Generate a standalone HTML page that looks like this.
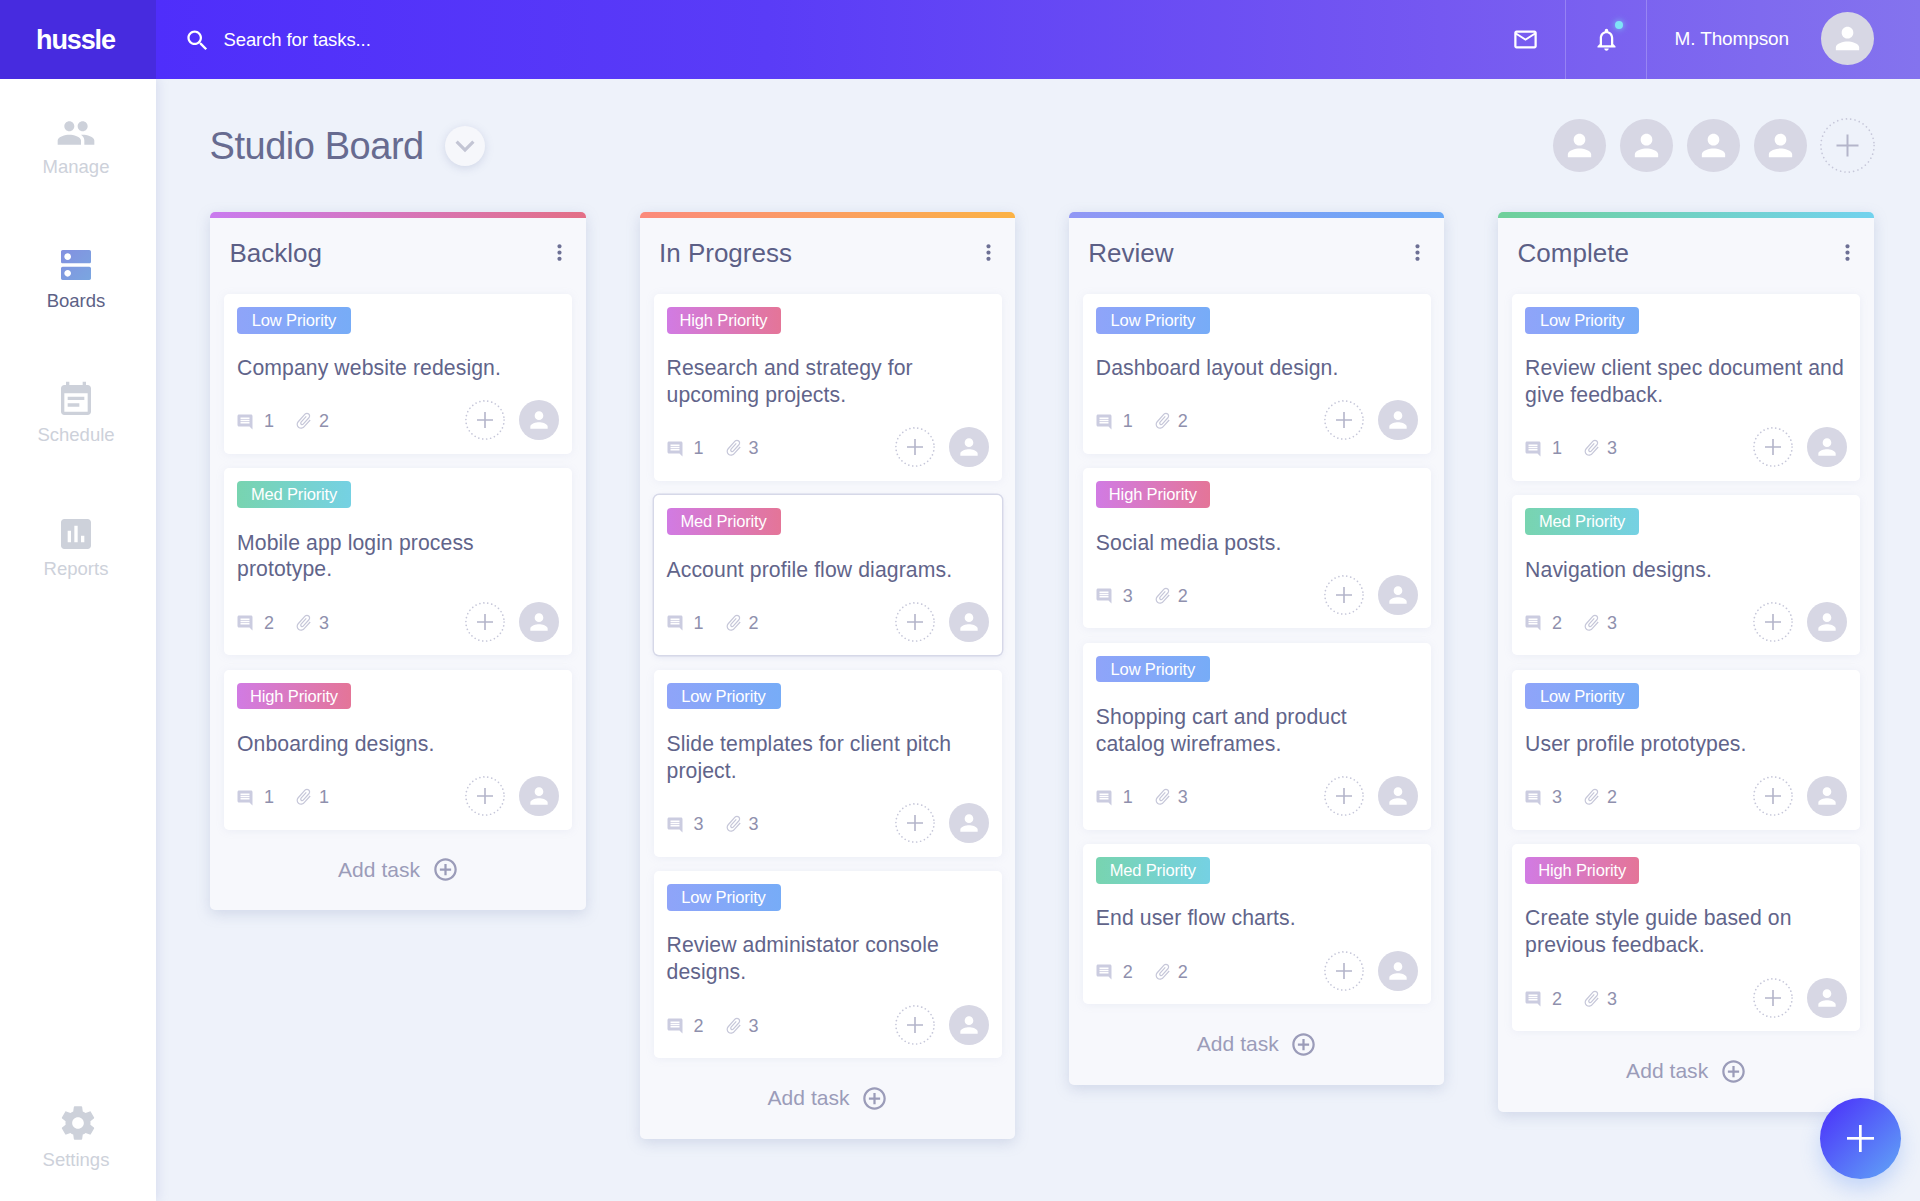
<!DOCTYPE html>
<html lang="en"><head><meta charset="utf-8"><title>hussle - Studio Board</title>
<style>
*{box-sizing:border-box;margin:0;padding:0}
html,body{width:1920px;height:1201px;overflow:hidden}
body{font-family:"Liberation Sans",sans-serif;background:#eef2fa;color:#5c5f86;position:relative}
.ic{display:block;fill:currentColor}
i{font-style:normal;display:block}
b{font-weight:normal}
/* header */
.top{position:absolute;left:0;top:0;width:1920px;height:78.7px;background:linear-gradient(90deg,#4f2efb 156px,#5a3cf7 40%,#7558f1 75%,#8473ee 100%);color:#fff;z-index:5}
.logo{position:absolute;left:0;top:0;width:155.5px;height:100%;background:#472bdf}
.logo span{position:absolute;left:36px;top:23.7px;font-size:27px;line-height:32px;font-weight:bold;letter-spacing:-1.1px}
.srch{position:absolute;left:184px;top:27px}
.stext{position:absolute;left:223.5px;top:28.4px;font-size:18.5px;line-height:24px;letter-spacing:-.1px}
.mail{position:absolute;left:1511.7px;top:26px}
.bell{position:absolute;left:1592.5px;top:26px}
.dot{position:absolute;left:1615px;top:21px;width:8px;height:8px;border-radius:50%;background:#7fe3f7;box-shadow:0 0 6px rgba(127,227,247,.8)}
.dv{position:absolute;top:0;width:1px;height:100%;background:rgba(255,255,255,.22)}
.uname{position:absolute;left:1674.5px;top:27.1px;font-size:19px;line-height:24px;letter-spacing:-.12px}
/* avatars */
.av{position:absolute;border-radius:50%;background:#d7d7e4;color:#fff;display:flex;align-items:center;justify-content:center}
.av.lg{width:53px;height:53px}
.av.sm{width:40px;height:40px;right:13px;top:0}
.plus{position:absolute;display:block;right:67px;top:0}
.plus.lg{right:auto}
/* sidebar */
.side{position:absolute;left:0;top:78px;width:156px;height:1123px;background:#fff;box-shadow:2px 0 10px rgba(150,160,210,.25);z-index:4}
.si{color:#cdd1da}
.si svg{position:absolute;margin-top:-78px}
.si span{position:absolute;left:0;width:152px;text-align:center;font-size:18.5px;line-height:24px;margin-top:-78px}
.si.act span{color:#5c6186}
.si.act svg{fill:url(#bg)}
/* main */
h1{position:absolute;left:209.5px;top:122px;font-size:38px;line-height:48px;font-weight:normal;color:#676b90;letter-spacing:-.45px}
.dd{position:absolute;left:445px;top:126px;width:40px;height:40px;border-radius:50%;background:#f6f7fb;box-shadow:0 2px 8px rgba(120,130,180,.25);color:#c3c5d4;display:flex;align-items:center;justify-content:center}
.col{position:absolute;top:212.3px;width:375.7px;background:#f7f8fc;border-radius:5px;box-shadow:0 4px 14px rgba(130,145,190,.27)}
.bar{position:absolute;left:0;top:0;width:100%;height:5.6px;border-radius:5px 5px 0 0}
h2{position:absolute;left:19.5px;top:24.7px;font-size:26px;line-height:32px;font-weight:normal;color:#5c5f86}
.dots{position:absolute;right:14.2px;top:28px;color:#6d7095}
.card{position:absolute;left:14px;width:348px;background:#fff;border-radius:5px;box-shadow:0 1px 8px rgba(160,170,210,.13)}
.card.sel{box-shadow:0 0 0 1.4px #d6d8e8,0 2px 6px rgba(140,150,200,.2)}
.badge{position:absolute;left:13px;top:13px;width:114px;height:27px;border-radius:4px;color:#fff;font-size:16.5px;line-height:26.6px;text-align:center;letter-spacing:-.15px;height:26.6px}
.badge.low{background:linear-gradient(90deg,#8fa4f9,#77acf7)}
.badge.med{background:linear-gradient(90deg,#78d4b0,#75d1e3)}
.badge.high{background:linear-gradient(90deg,#d17be3,#e47598)}
.ct{position:absolute;left:13px;top:61.3px;font-size:21.2px;line-height:26.8px;color:#61648a;white-space:nowrap;letter-spacing:.1px}
.cf{position:absolute;left:0;bottom:13.6px;width:100%;height:40px}
.cf b{font-size:18px;line-height:24px;color:#8f90ad;position:absolute;top:9px}
.m1 b{left:40px}
.m2 b{left:95px}
.cm{position:absolute;left:12.4px;top:12.6px;color:#cbcce0}
.cl{position:absolute;left:70.4px;top:11px;color:#c6c7d9;transform:rotate(42deg)}
.add{position:absolute;left:0;width:100%;height:81px;color:#9b9cb9}
.add span{position:absolute;left:128px;top:26px;font-size:21px;line-height:27px;letter-spacing:.05px}
.add svg{position:absolute;left:221.7px;top:26.6px}
.fab{position:absolute;left:1820px;top:1098px;width:81px;height:81px;border-radius:50%;background:linear-gradient(135deg,#4c38fa 10%,#5f9bf7 90%);box-shadow:0 10px 20px rgba(100,150,245,.3);z-index:6}
.fab i{position:absolute;left:50%;top:50%;width:27px;height:27px;margin:-13.5px 0 0 -13.5px;background:linear-gradient(#fff,#fff) center/27px 2.7px no-repeat,linear-gradient(#fff,#fff) center/2.7px 27px no-repeat}

</style></head>
<body>
<svg width="0" height="0" style="position:absolute"><defs><linearGradient id="bg" x1="0" y1="0" x2="1" y2="1"><stop offset="0" stop-color="#8390e0"/><stop offset="1" stop-color="#7aa6e0"/></linearGradient></defs></svg>
<header class="top">
<div class="logo"><span>hussle</span></div>
<svg class="ic srch" width="27" height="27" viewBox="0 0 24 24" style=""><path d="M15.5 14h-.79l-.28-.27C15.41 12.59 16 11.11 16 9.5 16 5.91 13.09 3 9.5 3S3 5.91 3 9.5 5.91 16 9.5 16c1.61 0 3.09-.59 4.23-1.57l.27.28v.79l5 4.99L20.49 19l-4.99-5zm-6 0C7.01 14 5 11.99 5 9.5S7.01 5 9.5 5 14 7.01 14 9.5 11.99 14 9.5 14z"/></svg>
<span class="stext">Search for tasks...</span>
<svg class="ic mail" width="27" height="27" viewBox="0 0 24 24" style=""><path d="M20 4H4c-1.1 0-1.99.9-1.99 2L2 18c0 1.1.9 2 2 2h16c1.1 0 2-.9 2-2V6c0-1.1-.9-2-2-2zm0 14H4V8l8 5 8-5v10zm-8-7L4 6h16l-8 5z"/></svg>
<i class="dv" style="left:1565px"></i>
<svg class="ic bell" width="27" height="27" viewBox="0 0 24 24" style=""><path d="M12 22c1.1 0 2-.9 2-2h-4c0 1.1.9 2 2 2zm6-6v-5c0-3.07-1.63-5.64-4.5-6.32V4c0-.83-.67-1.5-1.5-1.5s-1.5.67-1.5 1.5v.68C7.64 5.36 6 7.92 6 11v5l-2 2v1h16v-1l-2-2zm-2 1H8v-6c0-2.48 1.51-4.5 4-4.5s4 2.02 4 4.5v6z"/></svg><i class="dot"></i>
<i class="dv" style="left:1646px"></i>
<span class="uname">M. Thompson</span>
<span class="av lg" style="left:1821px;top:12px"><svg class="ic " width="35" height="35" viewBox="0 0 24 24" style=""><path d="M12 12c2.21 0 4-1.79 4-4s-1.79-4-4-4-4 1.79-4 4 1.79 4 4 4zm0 2c-2.67 0-8 1.34-8 4v2h16v-2c0-2.66-5.33-4-8-4z"/></svg></span>
</header>
<aside class="side">
<div class="si"><svg class="ic " width="40" height="40" viewBox="0 0 24 24" style="left:56px;top:113.30000000000001px"><path d="M16 11c1.66 0 2.99-1.34 2.99-3S17.66 5 16 5c-1.66 0-3 1.34-3 3s1.34 3 3 3zm-8 0c1.66 0 2.99-1.34 2.99-3S9.66 5 8 5C6.34 5 5 6.34 5 8s1.34 3 3 3zm0 2c-2.33 0-7 1.17-7 3.5V19h14v-2.5c0-2.33-4.67-3.5-7-3.5zm8 0c-.29 0-.62.02-.97.05 1.16.84 1.97 1.97 1.97 3.45V19h6v-2.5c0-2.33-4.67-3.5-7-3.5z"/></svg><span style="top:154.5px">Manage</span></div><div class="si act"><svg class="ic " width="40" height="40" viewBox="0 0 24 24" style="left:56px;top:245.39999999999998px"><path d="M20 13H4c-.55 0-1 .45-1 1v6c0 .55.45 1 1 1h16c.55 0 1-.45 1-1v-6c0-.55-.45-1-1-1zM7 19c-1.1 0-2-.9-2-2s.9-2 2-2 2 .9 2 2-.9 2-2 2zM20 3H4c-.55 0-1 .45-1 1v6c0 .55.45 1 1 1h16c.55 0 1-.45 1-1V4c0-.55-.45-1-1-1zM7 9c-1.1 0-2-.9-2-2s.9-2 2-2 2 .9 2 2-.9 2-2 2z"/></svg><span style="top:288.6px">Boards</span></div><div class="si"><svg class="ic " width="40" height="40" viewBox="0 0 24 24" style="left:56px;top:380.2px"><path d="M17 10H7v2h10v-2zm2-7h-1V1h-2v2H8V1H6v2H5c-1.11 0-1.99.9-1.99 2L3 19c0 1.1.89 2 2 2h14c1.1 0 2-.9 2-2V5c0-1.1-.9-2-2-2zm0 16H5V8h14v11zm-5-5H7v2h7v-2z"/></svg><span style="top:423px">Schedule</span></div><div class="si"><svg class="ic " width="40" height="40" viewBox="0 0 24 24" style="left:56px;top:514px"><path d="M19 3H5c-1.1 0-2 .9-2 2v14c0 1.1.9 2 2 2h14c1.1 0 2-.9 2-2V5c0-1.1-.9-2-2-2zM9 17H7v-7h2v7zm4 0h-2V7h2v10zm4 0h-2v-4h2v4z"/></svg><span style="top:557px">Reports</span></div><div class="si"><svg class="ic " width="40" height="40" viewBox="0 0 24 24" style="left:58px;top:1103px"><path d="M19.43 12.98c.04-.32.07-.64.07-.98s-.03-.66-.07-.98l2.11-1.65c.19-.15.24-.42.12-.64l-2-3.46c-.12-.22-.39-.3-.61-.22l-2.49 1c-.52-.4-1.08-.73-1.69-.98l-.38-2.65C14.46 2.18 14.25 2 14 2h-4c-.25 0-.46.18-.49.42l-.38 2.65c-.61.25-1.17.59-1.69.98l-2.49-1c-.23-.09-.49 0-.61.22l-2 3.46c-.13.22-.07.49.12.64l2.11 1.65c-.04.32-.07.65-.07.98s.03.66.07.98l-2.11 1.65c-.19.15-.24.42-.12.64l2 3.46c.12.22.39.3.61.22l2.49-1c.52.4 1.08.73 1.69.98l.38 2.65c.03.24.24.42.49.42h4c.25 0 .46-.18.49-.42l.38-2.65c.61-.25 1.17-.59 1.69-.98l2.49 1c.23.09.49 0 .61-.22l2-3.46c.12-.22.07-.49-.12-.64l-2.11-1.65zM12 15.5c-1.93 0-3.5-1.57-3.5-3.5s1.57-3.5 3.5-3.5 3.5 1.57 3.5 3.5-1.57 3.5-3.5 3.5z"/></svg><span style="top:1147.6px">Settings</span></div>
</aside>
<main>
<h1>Studio Board</h1>
<span class="dd"><svg class="ic " width="38" height="38" viewBox="0 0 24 24" style=""><path d="M16.59 8.59L12 13.17 7.41 8.59 6 10l6 6 6-6z"/></svg></span>
<span class="av lg" style="left:1552.5px;top:119px"><svg class="ic " width="35" height="35" viewBox="0 0 24 24" style=""><path d="M12 12c2.21 0 4-1.79 4-4s-1.79-4-4-4-4 1.79-4 4 1.79 4 4 4zm0 2c-2.67 0-8 1.34-8 4v2h16v-2c0-2.66-5.33-4-8-4z"/></svg></span>
<span class="av lg" style="left:1619.5px;top:119px"><svg class="ic " width="35" height="35" viewBox="0 0 24 24" style=""><path d="M12 12c2.21 0 4-1.79 4-4s-1.79-4-4-4-4 1.79-4 4 1.79 4 4 4zm0 2c-2.67 0-8 1.34-8 4v2h16v-2c0-2.66-5.33-4-8-4z"/></svg></span>
<span class="av lg" style="left:1686.5px;top:119px"><svg class="ic " width="35" height="35" viewBox="0 0 24 24" style=""><path d="M12 12c2.21 0 4-1.79 4-4s-1.79-4-4-4-4 1.79-4 4 1.79 4 4 4zm0 2c-2.67 0-8 1.34-8 4v2h16v-2c0-2.66-5.33-4-8-4z"/></svg></span>
<span class="av lg" style="left:1753.5px;top:119px"><svg class="ic " width="35" height="35" viewBox="0 0 24 24" style=""><path d="M12 12c2.21 0 4-1.79 4-4s-1.79-4-4-4-4 1.79-4 4 1.79 4 4 4zm0 2c-2.67 0-8 1.34-8 4v2h16v-2c0-2.66-5.33-4-8-4z"/></svg></span>
<svg class="plus lg" width="55" height="55" viewBox="0 0 55 55" style="left:1819.5px;top:118px"><circle cx="27.5" cy="27.5" r="26.60" fill="none" stroke="#c6c7d9" stroke-width="1.7" stroke-linecap="round" stroke-dasharray="0.01 4.398"/><path d="M16.5 27.5H38.5M27.5 16.5V38.5" stroke="#b4b5ca" stroke-width="2" fill="none"/></svg>
<section class="col" style="left:210px;height:698.1px">
<div class="bar" style="background:linear-gradient(90deg,#c97bef,#e36f86)"></div>
<h2>Backlog</h2><svg class="ic dots" width="25" height="25" viewBox="0 0 24 24" style=""><path d="M12 8c1.1 0 2-.9 2-2s-.9-2-2-2-2 .9-2 2 .9 2 2 2zm0 2c-1.1 0-2 .9-2 2s.9 2 2 2 2-.9 2-2-.9-2-2-2zm0 6c-1.1 0-2 .9-2 2s.9 2 2 2 2-.9 2-2-.9-2-2-2z"/></svg>
<div class="card" style="top:81.7px;height:160px">
<span class="badge low">Low Priority</span>
<p class="ct">Company website redesign.</p>
<div class="cf"><span class="m1"><svg class="ic cm" width="18" height="18" viewBox="0 0 24 24" style=""><path d="M21.99 4c0-1.1-.89-2-1.99-2H4c-1.1 0-2 .9-2 2v12c0 1.1.9 2 2 2h14l4 4-.01-18zM18 14H6v-2h12v2zm0-3H6V9h12v2zm0-3H6V6h12v2z"/></svg><b>1</b></span><span class="m2"><svg class="ic cl" width="19.5" height="19.5" viewBox="0 0 24 24" style=""><path d="M16.5 6v11.5c0 2.21-1.79 4-4 4s-4-1.79-4-4V5c0-1.38 1.12-2.5 2.5-2.5s2.5 1.12 2.5 2.5v10.5c0 .55-.45 1-1 1s-1-.45-1-1V6H10v9.5c0 1.38 1.12 2.5 2.5 2.5s2.5-1.12 2.5-2.5V5c0-2.21-1.79-4-4-4S7 2.79 7 5v12.5c0 3.04 2.46 5.5 5.5 5.5s5.5-2.46 5.5-5.5V6h-1.5z"/></svg><b>2</b></span>
<svg class="plus " width="40" height="40" viewBox="0 0 40 40" style=""><circle cx="20.0" cy="20.0" r="19.10" fill="none" stroke="#c6c7d9" stroke-width="1.7" stroke-linecap="round" stroke-dasharray="0.01 4.000"/><path d="M12.0 20.0H28.0M20.0 12.0V28.0" stroke="#b4b5ca" stroke-width="1.6" fill="none"/></svg><span class="av sm"><svg class="ic " width="26" height="26" viewBox="0 0 24 24" style=""><path d="M12 12c2.21 0 4-1.79 4-4s-1.79-4-4-4-4 1.79-4 4 1.79 4 4 4zm0 2c-2.67 0-8 1.34-8 4v2h16v-2c0-2.66-5.33-4-8-4z"/></svg></span></div>
</div><div class="card" style="top:256.1px;height:187px">
<span class="badge med">Med Priority</span>
<p class="ct">Mobile app login process<br>prototype.</p>
<div class="cf"><span class="m1"><svg class="ic cm" width="18" height="18" viewBox="0 0 24 24" style=""><path d="M21.99 4c0-1.1-.89-2-1.99-2H4c-1.1 0-2 .9-2 2v12c0 1.1.9 2 2 2h14l4 4-.01-18zM18 14H6v-2h12v2zm0-3H6V9h12v2zm0-3H6V6h12v2z"/></svg><b>2</b></span><span class="m2"><svg class="ic cl" width="19.5" height="19.5" viewBox="0 0 24 24" style=""><path d="M16.5 6v11.5c0 2.21-1.79 4-4 4s-4-1.79-4-4V5c0-1.38 1.12-2.5 2.5-2.5s2.5 1.12 2.5 2.5v10.5c0 .55-.45 1-1 1s-1-.45-1-1V6H10v9.5c0 1.38 1.12 2.5 2.5 2.5s2.5-1.12 2.5-2.5V5c0-2.21-1.79-4-4-4S7 2.79 7 5v12.5c0 3.04 2.46 5.5 5.5 5.5s5.5-2.46 5.5-5.5V6h-1.5z"/></svg><b>3</b></span>
<svg class="plus " width="40" height="40" viewBox="0 0 40 40" style=""><circle cx="20.0" cy="20.0" r="19.10" fill="none" stroke="#c6c7d9" stroke-width="1.7" stroke-linecap="round" stroke-dasharray="0.01 4.000"/><path d="M12.0 20.0H28.0M20.0 12.0V28.0" stroke="#b4b5ca" stroke-width="1.6" fill="none"/></svg><span class="av sm"><svg class="ic " width="26" height="26" viewBox="0 0 24 24" style=""><path d="M12 12c2.21 0 4-1.79 4-4s-1.79-4-4-4-4 1.79-4 4 1.79 4 4 4zm0 2c-2.67 0-8 1.34-8 4v2h16v-2c0-2.66-5.33-4-8-4z"/></svg></span></div>
</div><div class="card" style="top:457.5px;height:160px">
<span class="badge high">High Priority</span>
<p class="ct">Onboarding designs.</p>
<div class="cf"><span class="m1"><svg class="ic cm" width="18" height="18" viewBox="0 0 24 24" style=""><path d="M21.99 4c0-1.1-.89-2-1.99-2H4c-1.1 0-2 .9-2 2v12c0 1.1.9 2 2 2h14l4 4-.01-18zM18 14H6v-2h12v2zm0-3H6V9h12v2zm0-3H6V6h12v2z"/></svg><b>1</b></span><span class="m2"><svg class="ic cl" width="19.5" height="19.5" viewBox="0 0 24 24" style=""><path d="M16.5 6v11.5c0 2.21-1.79 4-4 4s-4-1.79-4-4V5c0-1.38 1.12-2.5 2.5-2.5s2.5 1.12 2.5 2.5v10.5c0 .55-.45 1-1 1s-1-.45-1-1V6H10v9.5c0 1.38 1.12 2.5 2.5 2.5s2.5-1.12 2.5-2.5V5c0-2.21-1.79-4-4-4S7 2.79 7 5v12.5c0 3.04 2.46 5.5 5.5 5.5s5.5-2.46 5.5-5.5V6h-1.5z"/></svg><b>1</b></span>
<svg class="plus " width="40" height="40" viewBox="0 0 40 40" style=""><circle cx="20.0" cy="20.0" r="19.10" fill="none" stroke="#c6c7d9" stroke-width="1.7" stroke-linecap="round" stroke-dasharray="0.01 4.000"/><path d="M12.0 20.0H28.0M20.0 12.0V28.0" stroke="#b4b5ca" stroke-width="1.6" fill="none"/></svg><span class="av sm"><svg class="ic " width="26" height="26" viewBox="0 0 24 24" style=""><path d="M12 12c2.21 0 4-1.79 4-4s-1.79-4-4-4-4 1.79-4 4 1.79 4 4 4zm0 2c-2.67 0-8 1.34-8 4v2h16v-2c0-2.66-5.33-4-8-4z"/></svg></span></div>
</div>
<div class="add" style="top:617.5px"><span>Add task</span><svg class="ic " width="27" height="27" viewBox="0 0 24 24" style=""><path d="M13 7h-2v4H7v2h4v4h2v-4h4v-2h-4V7zm-1-5C6.48 2 2 6.48 2 12s4.48 10 10 10 10-4.48 10-10S17.52 2 12 2zm0 18c-4.41 0-8-3.59-8-8s3.59-8 8-8 8 3.59 8 8-3.59 8-8 8z"/></svg></div>
</section><section class="col" style="left:639.5px;height:926.5px">
<div class="bar" style="background:linear-gradient(90deg,#fb8a7c,#fbb245)"></div>
<h2>In Progress</h2><svg class="ic dots" width="25" height="25" viewBox="0 0 24 24" style=""><path d="M12 8c1.1 0 2-.9 2-2s-.9-2-2-2-2 .9-2 2 .9 2 2 2zm0 2c-1.1 0-2 .9-2 2s.9 2 2 2 2-.9 2-2-.9-2-2-2zm0 6c-1.1 0-2 .9-2 2s.9 2 2 2 2-.9 2-2-.9-2-2-2z"/></svg>
<div class="card" style="top:81.7px;height:187px">
<span class="badge high">High Priority</span>
<p class="ct">Research and strategy for<br>upcoming projects.</p>
<div class="cf"><span class="m1"><svg class="ic cm" width="18" height="18" viewBox="0 0 24 24" style=""><path d="M21.99 4c0-1.1-.89-2-1.99-2H4c-1.1 0-2 .9-2 2v12c0 1.1.9 2 2 2h14l4 4-.01-18zM18 14H6v-2h12v2zm0-3H6V9h12v2zm0-3H6V6h12v2z"/></svg><b>1</b></span><span class="m2"><svg class="ic cl" width="19.5" height="19.5" viewBox="0 0 24 24" style=""><path d="M16.5 6v11.5c0 2.21-1.79 4-4 4s-4-1.79-4-4V5c0-1.38 1.12-2.5 2.5-2.5s2.5 1.12 2.5 2.5v10.5c0 .55-.45 1-1 1s-1-.45-1-1V6H10v9.5c0 1.38 1.12 2.5 2.5 2.5s2.5-1.12 2.5-2.5V5c0-2.21-1.79-4-4-4S7 2.79 7 5v12.5c0 3.04 2.46 5.5 5.5 5.5s5.5-2.46 5.5-5.5V6h-1.5z"/></svg><b>3</b></span>
<svg class="plus " width="40" height="40" viewBox="0 0 40 40" style=""><circle cx="20.0" cy="20.0" r="19.10" fill="none" stroke="#c6c7d9" stroke-width="1.7" stroke-linecap="round" stroke-dasharray="0.01 4.000"/><path d="M12.0 20.0H28.0M20.0 12.0V28.0" stroke="#b4b5ca" stroke-width="1.6" fill="none"/></svg><span class="av sm"><svg class="ic " width="26" height="26" viewBox="0 0 24 24" style=""><path d="M12 12c2.21 0 4-1.79 4-4s-1.79-4-4-4-4 1.79-4 4 1.79 4 4 4zm0 2c-2.67 0-8 1.34-8 4v2h16v-2c0-2.66-5.33-4-8-4z"/></svg></span></div>
</div><div class="card sel" style="top:283.1px;height:160px">
<span class="badge high">Med Priority</span>
<p class="ct">Account profile flow diagrams.</p>
<div class="cf"><span class="m1"><svg class="ic cm" width="18" height="18" viewBox="0 0 24 24" style=""><path d="M21.99 4c0-1.1-.89-2-1.99-2H4c-1.1 0-2 .9-2 2v12c0 1.1.9 2 2 2h14l4 4-.01-18zM18 14H6v-2h12v2zm0-3H6V9h12v2zm0-3H6V6h12v2z"/></svg><b>1</b></span><span class="m2"><svg class="ic cl" width="19.5" height="19.5" viewBox="0 0 24 24" style=""><path d="M16.5 6v11.5c0 2.21-1.79 4-4 4s-4-1.79-4-4V5c0-1.38 1.12-2.5 2.5-2.5s2.5 1.12 2.5 2.5v10.5c0 .55-.45 1-1 1s-1-.45-1-1V6H10v9.5c0 1.38 1.12 2.5 2.5 2.5s2.5-1.12 2.5-2.5V5c0-2.21-1.79-4-4-4S7 2.79 7 5v12.5c0 3.04 2.46 5.5 5.5 5.5s5.5-2.46 5.5-5.5V6h-1.5z"/></svg><b>2</b></span>
<svg class="plus " width="40" height="40" viewBox="0 0 40 40" style=""><circle cx="20.0" cy="20.0" r="19.10" fill="none" stroke="#c6c7d9" stroke-width="1.7" stroke-linecap="round" stroke-dasharray="0.01 4.000"/><path d="M12.0 20.0H28.0M20.0 12.0V28.0" stroke="#b4b5ca" stroke-width="1.6" fill="none"/></svg><span class="av sm"><svg class="ic " width="26" height="26" viewBox="0 0 24 24" style=""><path d="M12 12c2.21 0 4-1.79 4-4s-1.79-4-4-4-4 1.79-4 4 1.79 4 4 4zm0 2c-2.67 0-8 1.34-8 4v2h16v-2c0-2.66-5.33-4-8-4z"/></svg></span></div>
</div><div class="card" style="top:457.5px;height:187px">
<span class="badge low">Low Priority</span>
<p class="ct">Slide templates for client pitch<br>project.</p>
<div class="cf"><span class="m1"><svg class="ic cm" width="18" height="18" viewBox="0 0 24 24" style=""><path d="M21.99 4c0-1.1-.89-2-1.99-2H4c-1.1 0-2 .9-2 2v12c0 1.1.9 2 2 2h14l4 4-.01-18zM18 14H6v-2h12v2zm0-3H6V9h12v2zm0-3H6V6h12v2z"/></svg><b>3</b></span><span class="m2"><svg class="ic cl" width="19.5" height="19.5" viewBox="0 0 24 24" style=""><path d="M16.5 6v11.5c0 2.21-1.79 4-4 4s-4-1.79-4-4V5c0-1.38 1.12-2.5 2.5-2.5s2.5 1.12 2.5 2.5v10.5c0 .55-.45 1-1 1s-1-.45-1-1V6H10v9.5c0 1.38 1.12 2.5 2.5 2.5s2.5-1.12 2.5-2.5V5c0-2.21-1.79-4-4-4S7 2.79 7 5v12.5c0 3.04 2.46 5.5 5.5 5.5s5.5-2.46 5.5-5.5V6h-1.5z"/></svg><b>3</b></span>
<svg class="plus " width="40" height="40" viewBox="0 0 40 40" style=""><circle cx="20.0" cy="20.0" r="19.10" fill="none" stroke="#c6c7d9" stroke-width="1.7" stroke-linecap="round" stroke-dasharray="0.01 4.000"/><path d="M12.0 20.0H28.0M20.0 12.0V28.0" stroke="#b4b5ca" stroke-width="1.6" fill="none"/></svg><span class="av sm"><svg class="ic " width="26" height="26" viewBox="0 0 24 24" style=""><path d="M12 12c2.21 0 4-1.79 4-4s-1.79-4-4-4-4 1.79-4 4 1.79 4 4 4zm0 2c-2.67 0-8 1.34-8 4v2h16v-2c0-2.66-5.33-4-8-4z"/></svg></span></div>
</div><div class="card" style="top:658.9px;height:187px">
<span class="badge low">Low Priority</span>
<p class="ct">Review administator console<br>designs.</p>
<div class="cf"><span class="m1"><svg class="ic cm" width="18" height="18" viewBox="0 0 24 24" style=""><path d="M21.99 4c0-1.1-.89-2-1.99-2H4c-1.1 0-2 .9-2 2v12c0 1.1.9 2 2 2h14l4 4-.01-18zM18 14H6v-2h12v2zm0-3H6V9h12v2zm0-3H6V6h12v2z"/></svg><b>2</b></span><span class="m2"><svg class="ic cl" width="19.5" height="19.5" viewBox="0 0 24 24" style=""><path d="M16.5 6v11.5c0 2.21-1.79 4-4 4s-4-1.79-4-4V5c0-1.38 1.12-2.5 2.5-2.5s2.5 1.12 2.5 2.5v10.5c0 .55-.45 1-1 1s-1-.45-1-1V6H10v9.5c0 1.38 1.12 2.5 2.5 2.5s2.5-1.12 2.5-2.5V5c0-2.21-1.79-4-4-4S7 2.79 7 5v12.5c0 3.04 2.46 5.5 5.5 5.5s5.5-2.46 5.5-5.5V6h-1.5z"/></svg><b>3</b></span>
<svg class="plus " width="40" height="40" viewBox="0 0 40 40" style=""><circle cx="20.0" cy="20.0" r="19.10" fill="none" stroke="#c6c7d9" stroke-width="1.7" stroke-linecap="round" stroke-dasharray="0.01 4.000"/><path d="M12.0 20.0H28.0M20.0 12.0V28.0" stroke="#b4b5ca" stroke-width="1.6" fill="none"/></svg><span class="av sm"><svg class="ic " width="26" height="26" viewBox="0 0 24 24" style=""><path d="M12 12c2.21 0 4-1.79 4-4s-1.79-4-4-4-4 1.79-4 4 1.79 4 4 4zm0 2c-2.67 0-8 1.34-8 4v2h16v-2c0-2.66-5.33-4-8-4z"/></svg></span></div>
</div>
<div class="add" style="top:845.9px"><span>Add task</span><svg class="ic " width="27" height="27" viewBox="0 0 24 24" style=""><path d="M13 7h-2v4H7v2h4v4h2v-4h4v-2h-4V7zm-1-5C6.48 2 2 6.48 2 12s4.48 10 10 10 10-4.48 10-10S17.52 2 12 2zm0 18c-4.41 0-8-3.59-8-8s3.59-8 8-8 8 3.59 8 8-3.59 8-8 8z"/></svg></div>
</section><section class="col" style="left:1068.8px;height:872.5px">
<div class="bar" style="background:linear-gradient(90deg,#9197f5,#69a8f6)"></div>
<h2>Review</h2><svg class="ic dots" width="25" height="25" viewBox="0 0 24 24" style=""><path d="M12 8c1.1 0 2-.9 2-2s-.9-2-2-2-2 .9-2 2 .9 2 2 2zm0 2c-1.1 0-2 .9-2 2s.9 2 2 2 2-.9 2-2-.9-2-2-2zm0 6c-1.1 0-2 .9-2 2s.9 2 2 2 2-.9 2-2-.9-2-2-2z"/></svg>
<div class="card" style="top:81.7px;height:160px">
<span class="badge low">Low Priority</span>
<p class="ct">Dashboard layout design.</p>
<div class="cf"><span class="m1"><svg class="ic cm" width="18" height="18" viewBox="0 0 24 24" style=""><path d="M21.99 4c0-1.1-.89-2-1.99-2H4c-1.1 0-2 .9-2 2v12c0 1.1.9 2 2 2h14l4 4-.01-18zM18 14H6v-2h12v2zm0-3H6V9h12v2zm0-3H6V6h12v2z"/></svg><b>1</b></span><span class="m2"><svg class="ic cl" width="19.5" height="19.5" viewBox="0 0 24 24" style=""><path d="M16.5 6v11.5c0 2.21-1.79 4-4 4s-4-1.79-4-4V5c0-1.38 1.12-2.5 2.5-2.5s2.5 1.12 2.5 2.5v10.5c0 .55-.45 1-1 1s-1-.45-1-1V6H10v9.5c0 1.38 1.12 2.5 2.5 2.5s2.5-1.12 2.5-2.5V5c0-2.21-1.79-4-4-4S7 2.79 7 5v12.5c0 3.04 2.46 5.5 5.5 5.5s5.5-2.46 5.5-5.5V6h-1.5z"/></svg><b>2</b></span>
<svg class="plus " width="40" height="40" viewBox="0 0 40 40" style=""><circle cx="20.0" cy="20.0" r="19.10" fill="none" stroke="#c6c7d9" stroke-width="1.7" stroke-linecap="round" stroke-dasharray="0.01 4.000"/><path d="M12.0 20.0H28.0M20.0 12.0V28.0" stroke="#b4b5ca" stroke-width="1.6" fill="none"/></svg><span class="av sm"><svg class="ic " width="26" height="26" viewBox="0 0 24 24" style=""><path d="M12 12c2.21 0 4-1.79 4-4s-1.79-4-4-4-4 1.79-4 4 1.79 4 4 4zm0 2c-2.67 0-8 1.34-8 4v2h16v-2c0-2.66-5.33-4-8-4z"/></svg></span></div>
</div><div class="card" style="top:256.1px;height:160px">
<span class="badge high">High Priority</span>
<p class="ct">Social media posts.</p>
<div class="cf"><span class="m1"><svg class="ic cm" width="18" height="18" viewBox="0 0 24 24" style=""><path d="M21.99 4c0-1.1-.89-2-1.99-2H4c-1.1 0-2 .9-2 2v12c0 1.1.9 2 2 2h14l4 4-.01-18zM18 14H6v-2h12v2zm0-3H6V9h12v2zm0-3H6V6h12v2z"/></svg><b>3</b></span><span class="m2"><svg class="ic cl" width="19.5" height="19.5" viewBox="0 0 24 24" style=""><path d="M16.5 6v11.5c0 2.21-1.79 4-4 4s-4-1.79-4-4V5c0-1.38 1.12-2.5 2.5-2.5s2.5 1.12 2.5 2.5v10.5c0 .55-.45 1-1 1s-1-.45-1-1V6H10v9.5c0 1.38 1.12 2.5 2.5 2.5s2.5-1.12 2.5-2.5V5c0-2.21-1.79-4-4-4S7 2.79 7 5v12.5c0 3.04 2.46 5.5 5.5 5.5s5.5-2.46 5.5-5.5V6h-1.5z"/></svg><b>2</b></span>
<svg class="plus " width="40" height="40" viewBox="0 0 40 40" style=""><circle cx="20.0" cy="20.0" r="19.10" fill="none" stroke="#c6c7d9" stroke-width="1.7" stroke-linecap="round" stroke-dasharray="0.01 4.000"/><path d="M12.0 20.0H28.0M20.0 12.0V28.0" stroke="#b4b5ca" stroke-width="1.6" fill="none"/></svg><span class="av sm"><svg class="ic " width="26" height="26" viewBox="0 0 24 24" style=""><path d="M12 12c2.21 0 4-1.79 4-4s-1.79-4-4-4-4 1.79-4 4 1.79 4 4 4zm0 2c-2.67 0-8 1.34-8 4v2h16v-2c0-2.66-5.33-4-8-4z"/></svg></span></div>
</div><div class="card" style="top:430.5px;height:187px">
<span class="badge low">Low Priority</span>
<p class="ct">Shopping cart and product<br>catalog wireframes.</p>
<div class="cf"><span class="m1"><svg class="ic cm" width="18" height="18" viewBox="0 0 24 24" style=""><path d="M21.99 4c0-1.1-.89-2-1.99-2H4c-1.1 0-2 .9-2 2v12c0 1.1.9 2 2 2h14l4 4-.01-18zM18 14H6v-2h12v2zm0-3H6V9h12v2zm0-3H6V6h12v2z"/></svg><b>1</b></span><span class="m2"><svg class="ic cl" width="19.5" height="19.5" viewBox="0 0 24 24" style=""><path d="M16.5 6v11.5c0 2.21-1.79 4-4 4s-4-1.79-4-4V5c0-1.38 1.12-2.5 2.5-2.5s2.5 1.12 2.5 2.5v10.5c0 .55-.45 1-1 1s-1-.45-1-1V6H10v9.5c0 1.38 1.12 2.5 2.5 2.5s2.5-1.12 2.5-2.5V5c0-2.21-1.79-4-4-4S7 2.79 7 5v12.5c0 3.04 2.46 5.5 5.5 5.5s5.5-2.46 5.5-5.5V6h-1.5z"/></svg><b>3</b></span>
<svg class="plus " width="40" height="40" viewBox="0 0 40 40" style=""><circle cx="20.0" cy="20.0" r="19.10" fill="none" stroke="#c6c7d9" stroke-width="1.7" stroke-linecap="round" stroke-dasharray="0.01 4.000"/><path d="M12.0 20.0H28.0M20.0 12.0V28.0" stroke="#b4b5ca" stroke-width="1.6" fill="none"/></svg><span class="av sm"><svg class="ic " width="26" height="26" viewBox="0 0 24 24" style=""><path d="M12 12c2.21 0 4-1.79 4-4s-1.79-4-4-4-4 1.79-4 4 1.79 4 4 4zm0 2c-2.67 0-8 1.34-8 4v2h16v-2c0-2.66-5.33-4-8-4z"/></svg></span></div>
</div><div class="card" style="top:631.9px;height:160px">
<span class="badge med">Med Priority</span>
<p class="ct">End user flow charts.</p>
<div class="cf"><span class="m1"><svg class="ic cm" width="18" height="18" viewBox="0 0 24 24" style=""><path d="M21.99 4c0-1.1-.89-2-1.99-2H4c-1.1 0-2 .9-2 2v12c0 1.1.9 2 2 2h14l4 4-.01-18zM18 14H6v-2h12v2zm0-3H6V9h12v2zm0-3H6V6h12v2z"/></svg><b>2</b></span><span class="m2"><svg class="ic cl" width="19.5" height="19.5" viewBox="0 0 24 24" style=""><path d="M16.5 6v11.5c0 2.21-1.79 4-4 4s-4-1.79-4-4V5c0-1.38 1.12-2.5 2.5-2.5s2.5 1.12 2.5 2.5v10.5c0 .55-.45 1-1 1s-1-.45-1-1V6H10v9.5c0 1.38 1.12 2.5 2.5 2.5s2.5-1.12 2.5-2.5V5c0-2.21-1.79-4-4-4S7 2.79 7 5v12.5c0 3.04 2.46 5.5 5.5 5.5s5.5-2.46 5.5-5.5V6h-1.5z"/></svg><b>2</b></span>
<svg class="plus " width="40" height="40" viewBox="0 0 40 40" style=""><circle cx="20.0" cy="20.0" r="19.10" fill="none" stroke="#c6c7d9" stroke-width="1.7" stroke-linecap="round" stroke-dasharray="0.01 4.000"/><path d="M12.0 20.0H28.0M20.0 12.0V28.0" stroke="#b4b5ca" stroke-width="1.6" fill="none"/></svg><span class="av sm"><svg class="ic " width="26" height="26" viewBox="0 0 24 24" style=""><path d="M12 12c2.21 0 4-1.79 4-4s-1.79-4-4-4-4 1.79-4 4 1.79 4 4 4zm0 2c-2.67 0-8 1.34-8 4v2h16v-2c0-2.66-5.33-4-8-4z"/></svg></span></div>
</div>
<div class="add" style="top:791.9px"><span>Add task</span><svg class="ic " width="27" height="27" viewBox="0 0 24 24" style=""><path d="M13 7h-2v4H7v2h4v4h2v-4h4v-2h-4V7zm-1-5C6.48 2 2 6.48 2 12s4.48 10 10 10 10-4.48 10-10S17.52 2 12 2zm0 18c-4.41 0-8-3.59-8-8s3.59-8 8-8 8 3.59 8 8-3.59 8-8 8z"/></svg></div>
</section><section class="col" style="left:1498.1px;height:899.5px">
<div class="bar" style="background:linear-gradient(90deg,#6fd09a,#72d2ee)"></div>
<h2>Complete</h2><svg class="ic dots" width="25" height="25" viewBox="0 0 24 24" style=""><path d="M12 8c1.1 0 2-.9 2-2s-.9-2-2-2-2 .9-2 2 .9 2 2 2zm0 2c-1.1 0-2 .9-2 2s.9 2 2 2 2-.9 2-2-.9-2-2-2zm0 6c-1.1 0-2 .9-2 2s.9 2 2 2 2-.9 2-2-.9-2-2-2z"/></svg>
<div class="card" style="top:81.7px;height:187px">
<span class="badge low">Low Priority</span>
<p class="ct">Review client spec document and<br>give feedback.</p>
<div class="cf"><span class="m1"><svg class="ic cm" width="18" height="18" viewBox="0 0 24 24" style=""><path d="M21.99 4c0-1.1-.89-2-1.99-2H4c-1.1 0-2 .9-2 2v12c0 1.1.9 2 2 2h14l4 4-.01-18zM18 14H6v-2h12v2zm0-3H6V9h12v2zm0-3H6V6h12v2z"/></svg><b>1</b></span><span class="m2"><svg class="ic cl" width="19.5" height="19.5" viewBox="0 0 24 24" style=""><path d="M16.5 6v11.5c0 2.21-1.79 4-4 4s-4-1.79-4-4V5c0-1.38 1.12-2.5 2.5-2.5s2.5 1.12 2.5 2.5v10.5c0 .55-.45 1-1 1s-1-.45-1-1V6H10v9.5c0 1.38 1.12 2.5 2.5 2.5s2.5-1.12 2.5-2.5V5c0-2.21-1.79-4-4-4S7 2.79 7 5v12.5c0 3.04 2.46 5.5 5.5 5.5s5.5-2.46 5.5-5.5V6h-1.5z"/></svg><b>3</b></span>
<svg class="plus " width="40" height="40" viewBox="0 0 40 40" style=""><circle cx="20.0" cy="20.0" r="19.10" fill="none" stroke="#c6c7d9" stroke-width="1.7" stroke-linecap="round" stroke-dasharray="0.01 4.000"/><path d="M12.0 20.0H28.0M20.0 12.0V28.0" stroke="#b4b5ca" stroke-width="1.6" fill="none"/></svg><span class="av sm"><svg class="ic " width="26" height="26" viewBox="0 0 24 24" style=""><path d="M12 12c2.21 0 4-1.79 4-4s-1.79-4-4-4-4 1.79-4 4 1.79 4 4 4zm0 2c-2.67 0-8 1.34-8 4v2h16v-2c0-2.66-5.33-4-8-4z"/></svg></span></div>
</div><div class="card" style="top:283.1px;height:160px">
<span class="badge med">Med Priority</span>
<p class="ct">Navigation designs.</p>
<div class="cf"><span class="m1"><svg class="ic cm" width="18" height="18" viewBox="0 0 24 24" style=""><path d="M21.99 4c0-1.1-.89-2-1.99-2H4c-1.1 0-2 .9-2 2v12c0 1.1.9 2 2 2h14l4 4-.01-18zM18 14H6v-2h12v2zm0-3H6V9h12v2zm0-3H6V6h12v2z"/></svg><b>2</b></span><span class="m2"><svg class="ic cl" width="19.5" height="19.5" viewBox="0 0 24 24" style=""><path d="M16.5 6v11.5c0 2.21-1.79 4-4 4s-4-1.79-4-4V5c0-1.38 1.12-2.5 2.5-2.5s2.5 1.12 2.5 2.5v10.5c0 .55-.45 1-1 1s-1-.45-1-1V6H10v9.5c0 1.38 1.12 2.5 2.5 2.5s2.5-1.12 2.5-2.5V5c0-2.21-1.79-4-4-4S7 2.79 7 5v12.5c0 3.04 2.46 5.5 5.5 5.5s5.5-2.46 5.5-5.5V6h-1.5z"/></svg><b>3</b></span>
<svg class="plus " width="40" height="40" viewBox="0 0 40 40" style=""><circle cx="20.0" cy="20.0" r="19.10" fill="none" stroke="#c6c7d9" stroke-width="1.7" stroke-linecap="round" stroke-dasharray="0.01 4.000"/><path d="M12.0 20.0H28.0M20.0 12.0V28.0" stroke="#b4b5ca" stroke-width="1.6" fill="none"/></svg><span class="av sm"><svg class="ic " width="26" height="26" viewBox="0 0 24 24" style=""><path d="M12 12c2.21 0 4-1.79 4-4s-1.79-4-4-4-4 1.79-4 4 1.79 4 4 4zm0 2c-2.67 0-8 1.34-8 4v2h16v-2c0-2.66-5.33-4-8-4z"/></svg></span></div>
</div><div class="card" style="top:457.5px;height:160px">
<span class="badge low">Low Priority</span>
<p class="ct">User profile prototypes.</p>
<div class="cf"><span class="m1"><svg class="ic cm" width="18" height="18" viewBox="0 0 24 24" style=""><path d="M21.99 4c0-1.1-.89-2-1.99-2H4c-1.1 0-2 .9-2 2v12c0 1.1.9 2 2 2h14l4 4-.01-18zM18 14H6v-2h12v2zm0-3H6V9h12v2zm0-3H6V6h12v2z"/></svg><b>3</b></span><span class="m2"><svg class="ic cl" width="19.5" height="19.5" viewBox="0 0 24 24" style=""><path d="M16.5 6v11.5c0 2.21-1.79 4-4 4s-4-1.79-4-4V5c0-1.38 1.12-2.5 2.5-2.5s2.5 1.12 2.5 2.5v10.5c0 .55-.45 1-1 1s-1-.45-1-1V6H10v9.5c0 1.38 1.12 2.5 2.5 2.5s2.5-1.12 2.5-2.5V5c0-2.21-1.79-4-4-4S7 2.79 7 5v12.5c0 3.04 2.46 5.5 5.5 5.5s5.5-2.46 5.5-5.5V6h-1.5z"/></svg><b>2</b></span>
<svg class="plus " width="40" height="40" viewBox="0 0 40 40" style=""><circle cx="20.0" cy="20.0" r="19.10" fill="none" stroke="#c6c7d9" stroke-width="1.7" stroke-linecap="round" stroke-dasharray="0.01 4.000"/><path d="M12.0 20.0H28.0M20.0 12.0V28.0" stroke="#b4b5ca" stroke-width="1.6" fill="none"/></svg><span class="av sm"><svg class="ic " width="26" height="26" viewBox="0 0 24 24" style=""><path d="M12 12c2.21 0 4-1.79 4-4s-1.79-4-4-4-4 1.79-4 4 1.79 4 4 4zm0 2c-2.67 0-8 1.34-8 4v2h16v-2c0-2.66-5.33-4-8-4z"/></svg></span></div>
</div><div class="card" style="top:631.9px;height:187px">
<span class="badge high">High Priority</span>
<p class="ct">Create style guide based on<br>previous feedback.</p>
<div class="cf"><span class="m1"><svg class="ic cm" width="18" height="18" viewBox="0 0 24 24" style=""><path d="M21.99 4c0-1.1-.89-2-1.99-2H4c-1.1 0-2 .9-2 2v12c0 1.1.9 2 2 2h14l4 4-.01-18zM18 14H6v-2h12v2zm0-3H6V9h12v2zm0-3H6V6h12v2z"/></svg><b>2</b></span><span class="m2"><svg class="ic cl" width="19.5" height="19.5" viewBox="0 0 24 24" style=""><path d="M16.5 6v11.5c0 2.21-1.79 4-4 4s-4-1.79-4-4V5c0-1.38 1.12-2.5 2.5-2.5s2.5 1.12 2.5 2.5v10.5c0 .55-.45 1-1 1s-1-.45-1-1V6H10v9.5c0 1.38 1.12 2.5 2.5 2.5s2.5-1.12 2.5-2.5V5c0-2.21-1.79-4-4-4S7 2.79 7 5v12.5c0 3.04 2.46 5.5 5.5 5.5s5.5-2.46 5.5-5.5V6h-1.5z"/></svg><b>3</b></span>
<svg class="plus " width="40" height="40" viewBox="0 0 40 40" style=""><circle cx="20.0" cy="20.0" r="19.10" fill="none" stroke="#c6c7d9" stroke-width="1.7" stroke-linecap="round" stroke-dasharray="0.01 4.000"/><path d="M12.0 20.0H28.0M20.0 12.0V28.0" stroke="#b4b5ca" stroke-width="1.6" fill="none"/></svg><span class="av sm"><svg class="ic " width="26" height="26" viewBox="0 0 24 24" style=""><path d="M12 12c2.21 0 4-1.79 4-4s-1.79-4-4-4-4 1.79-4 4 1.79 4 4 4zm0 2c-2.67 0-8 1.34-8 4v2h16v-2c0-2.66-5.33-4-8-4z"/></svg></span></div>
</div>
<div class="add" style="top:818.9px"><span>Add task</span><svg class="ic " width="27" height="27" viewBox="0 0 24 24" style=""><path d="M13 7h-2v4H7v2h4v4h2v-4h4v-2h-4V7zm-1-5C6.48 2 2 6.48 2 12s4.48 10 10 10 10-4.48 10-10S17.52 2 12 2zm0 18c-4.41 0-8-3.59-8-8s3.59-8 8-8 8 3.59 8 8-3.59 8-8 8z"/></svg></div>
</section>
<div class="fab"><i></i></div>
</main>
</body></html>
